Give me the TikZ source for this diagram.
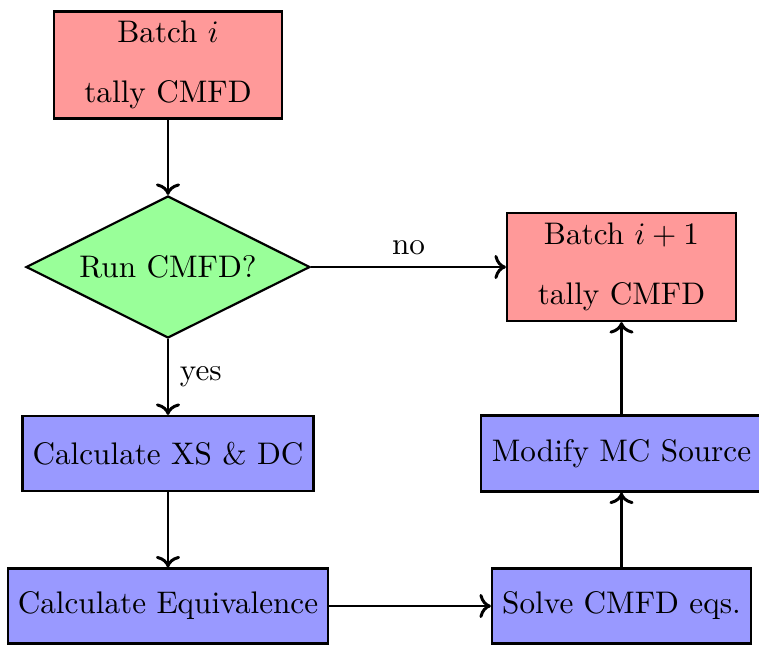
\documentclass[tikz,border=0pt]{standalone}
\usetikzlibrary{shapes.geometric,arrows.meta}
\begin{document}
\begin{tikzpicture}[x=0.3205pt,y=-0.3205pt,
  box/.style={draw=black,line width=0.7pt,rectangle,inner sep=0pt,align=center},
  redbox/.style={box,fill=red!40},
  bluebox/.style={box,fill=blue!40},
  dia/.style={draw=black,line width=0.7pt,diamond,fill=green!40,inner sep=0pt,aspect=2},
  arr/.style={line width=0.95pt,->}]
\useasboundingbox (0,0) rectangle (759,645);
\node[redbox,minimum width=228*0.3205pt,minimum height=107*0.3205pt] (b1) at (168,65) {Batch $i$\\[7pt]tally CMFD};
\node[dia,minimum width=284*0.3205pt,minimum height=142*0.3205pt] (d) at (168,267) {Run CMFD?};
\node[redbox,minimum width=229*0.3205pt,minimum height=108*0.3205pt] (b2) at (621.5,267) {Batch $i+1$\\[7pt]tally CMFD};
\node[bluebox,minimum width=291*0.3205pt,minimum height=75*0.3205pt] (xs) at (168,453.5) {Calculate XS \& DC};
\node[bluebox,minimum width=320*0.3205pt,minimum height=75*0.3205pt] (eq) at (168,606) {Calculate Equivalence};
\node[bluebox,minimum width=259*0.3205pt,minimum height=75*0.3205pt] (sv) at (621.5,606) {Solve CMFD eqs.};
\node[bluebox,minimum width=281*0.3205pt,minimum height=76*0.3205pt] (md) at (621.5,453.5) {Modify MC Source};
\draw[arr] (b1) -- (d);
\draw[arr] (d) -- node[above] {no} (b2);
\draw[arr] (d) -- node[right] {yes} (xs);
\draw[arr] (xs) -- (eq);
\draw[arr] (eq) -- (sv);
\draw[arr] (sv) -- (md);
\draw[arr] (md) -- (b2);
\end{tikzpicture}
\end{document}
